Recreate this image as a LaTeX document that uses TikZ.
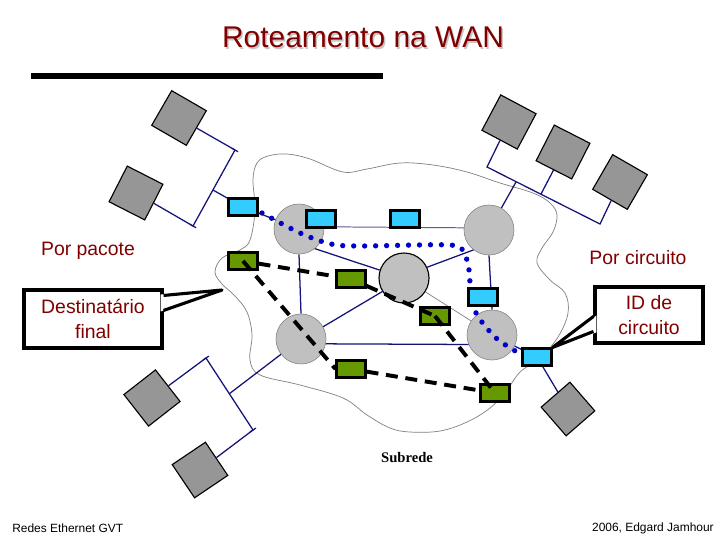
\documentclass[tikz,border=0pt]{standalone}
\usepackage{fontspec}
\setmainfont{Liberation Sans}
\newfontfamily\serifa{Liberation Serif}
\usepackage{tikz}
\usetikzlibrary{calc}

\definecolor{titulo}{RGB}{128,0,0}
\definecolor{roteador}{RGB}{192,192,192}
\definecolor{hostcinza}{RGB}{150,150,150}
\definecolor{ciano}{RGB}{51,204,255}
\definecolor{verde}{RGB}{102,153,0}
\definecolor{marinho}{RGB}{20,20,120}
\definecolor{pontos}{RGB}{0,0,204}

\begin{document}
\begin{tikzpicture}[x=0.025cm, y=-0.025cm,
    router/.style={circle, draw=gray, fill=roteador, minimum size=1.25cm, inner sep=0pt},
    host/.style={rectangle, draw=black, thick, fill=hostcinza, minimum size=1cm, inner sep=0pt},
    pacote/.style={rectangle, draw=black, line width=1.6pt, fill=ciano, minimum width=0.72cm, minimum height=0.42cm, inner sep=0pt},
    circuito/.style={pacote, fill=verde},
    enlace/.style={draw=marinho, line width=0.9pt},
    rota/.style={black, line width=2.8pt, dash pattern=on 8.5pt off 5.5pt},
    datagrama/.style={pontos, line width=3.8pt, line cap=round, dash pattern=on 0pt off 7.8pt},
    rotulo/.style={text=titulo, font=\fontsize{13.8}{17.8}\selectfont},
    balao/.style={rotulo, draw=black, line width=2.2pt, fill=white, align=center, inner sep=0pt}
  ]
    \useasboundingbox (0,0) rectangle (720,540);

    % titulo
    \node[text=gray!45, font=\fontsize{21.3}{24}\selectfont] (sombra) at (364.5,39) {Roteamento na WAN};
    \node[text=titulo, font=\fontsize{21.3}{24}\selectfont] (titulo) at (363,37.5) {Roteamento na WAN};
    \fill (31,73) rectangle (383,79);

    % subrede
    \draw[gray, line width=0.5pt] plot[smooth cycle, tension=0.6] coordinates {
      (257,163) (268,156) (287,154) (310,159) (343,172) (367,169) (400,163) (433,165)
      (467,172) (500,183) (533,193) (550,203) (557,215) (553,232) (542,248) (537,263)
      (550,280) (565,293) (568,313) (558,337) (540,358) (520,372) (507,390) (490,408)
      (467,422) (440,431) (410,432) (390,428) (367,415) (343,398) (300,385) (260,375)
      (250,360) (252,335) (247,312) (235,296) (222,284) (215,272) (222,258) (240,250)
      (250,240) (255,210) (253,180)};
    \node[font=\serifa\bfseries\fontsize{10.4}{12}\selectfont] (subrede) at (407,458) {Subrede};

    % estacoes
    \node[host, rotate=-30] (hA) at (179,118) {};
    \node[host, rotate=-27] (hB) at (136,193) {};
    \node[host, rotate=-28] (hC) at (509,122) {};
    \node[host, rotate=-27] (hD) at (563,152) {};
    \node[host, rotate=-30] (hE) at (620,182) {};
    \node[host, rotate=38] (hF) at (152,398) {};
    \node[host, rotate=34] (hG) at (200,470) {};
    \node[host, rotate=41, minimum size=0.95cm] (hH) at (568,409) {};

    % roteadores
    \node[router] (R1) at (299,229) {};
    \node[router] (R2) at (489,230) {};
    \node[router, draw=black, thick] (R3) at (404,278) {};
    \node[router] (R4) at (301,339) {};
    \node[router] (R5) at (492,335) {};

    % redes locais
    \coordinate (tlA) at (235,150);
    \coordinate (tlB) at (193,226);
    \coordinate (tlM) at (213,190);
    \draw[enlace] (tlA) -- (tlB);
    \draw[enlace] ($(tlA)!2.5pt!90:(tlB)$) -- ($(tlA)!2.5pt!-90:(tlB)$);
    \draw[enlace] ($(tlB)!2.5pt!90:(tlA)$) -- ($(tlB)!2.5pt!-90:(tlA)$);
    \draw[enlace] (hA) -- (tlA);
    \draw[enlace] (hB) -- (tlB);

    \coordinate (trA) at (487,167);
    \coordinate (trB) at (600,224);
    \coordinate (trD) at (541,194);
    \coordinate (trR) at (516,182);
    \draw[enlace] (hC) -- (trA) -- (trB) -- (hE);
    \draw[enlace] (hD) -- (trD);
    \draw[enlace] (trR) -- (R2);

    \coordinate (blA) at (206,358);
    \coordinate (blB) at (253,430);
    \coordinate (blM) at (229,394);
    \draw[enlace] (blA) -- (blB);
    \draw[enlace] ($(blA)!2.5pt!90:(blB)$) -- ($(blA)!2.5pt!-90:(blB)$);
    \draw[enlace] ($(blB)!2.5pt!90:(blA)$) -- ($(blB)!2.5pt!-90:(blA)$);
    \draw[enlace] (hF) -- (blA);
    \draw[enlace] (hG) -- (blB);
    \draw[enlace] (blM) -- (R4);

    % enlaces da subrede
    \draw[draw=marinho!70, line width=0.7pt] (R1.5) -- (R2.175);
    \draw[enlace] (R1.-51) -- (R3.162);
    \draw[enlace] (R2.-128) -- (R3.25);
    \draw[enlace] (R4.29) -- (R3.212);
    \draw[gray, line width=0.5pt] (R3.-33) -- (R5.146);
    \draw[enlace] (R4.-11) -- (R5.-158);
    \draw[enlace] (R1.-90) -- (R4.90);
    \draw[enlace] (R2.-90) -- (R5.90);

    % datagrama
    \coordinate (ini) at (262,213);
    \coordinate (fim) at (517,352);
    \draw[datagrama] plot[smooth, tension=0.5] coordinates {(ini) (300,233) (331,244)
      (360,246) (450,245) (464,253) (469,270) (471,295) (477,315) (496,338) (fim)};

    % pacotes
    \node[pacote] (p0) at (243,207) {};
    \node[pacote] (p1) at (321,219) {};
    \node[pacote] (p2) at (405,219) {};
    \node[pacote] (p3) at (483,297) {};
    \node[pacote] (p4) at (537,357) {};
    \draw[enlace] (tlM) -- (p0);
    \draw[enlace] (p0) -- (R1);
    \draw[enlace] (R5) -- (p4);
    \draw[enlace] (p4) -- (hH);

    % circuito virtual
    \node[circuito] (c1) at (243,261) {};
    \node[circuito] (c2) at (351,279) {};
    \node[circuito] (c3) at (435,316) {};
    \node[circuito] (c4) at (351,369) {};
    \node[circuito] (c5) at (495,393) {};
    \draw[rota] (c1) -- (c2);
    \draw[rota] (c1.center) -- (c4.west);
    \draw[rota] (c2) -- (c3.center);
    \draw[rota] (c3.center) -- (c5.center);
    \draw[rota] (c4) -- (c5);

    % legendas
    \node[rotulo] (pacote) at (88,251) {Por pacote};
    \node[rotulo] (porcircuito) at (638,258) {Por circuito};

    \node[balao, minimum width=3.45cm, minimum height=1.45cm] (destino) at (93,319) {Destinatário\\final};
    \coordinate (dponta) at (222,290);
    \fill[white] ($(destino.north east)+(-3,6)$) -- (dponta) -- ($(destino.north east)+(-3,23)$) -- cycle;
    \draw[line width=2.2pt, line join=round] ($(destino.north east)+(0,7)$) -- (dponta) -- ($(destino.north east)+(0,22)$);

    \node[balao, minimum width=2.7cm, minimum height=1.4cm] (idcirc) at (649,315) {ID de\\circuito};
    \fill[white] ($(idcirc.north west)+(3,30)$) -- (p4.north east) -- ($(idcirc.north west)+(3,47)$) -- cycle;
    \draw[line width=2.2pt, line join=round] ($(idcirc.north west)+(0,31)$) -- (p4.north east) -- ($(idcirc.north west)+(0,46)$);

    % rodape
    \node[anchor=west, inner sep=0pt, font=\fontsize{8.5}{10}\selectfont] (rodape) at (12,528) {Redes Ethernet GVT};
    \node[anchor=east, inner sep=0pt, font=\fontsize{8.5}{10}\selectfont] (autor) at (714,528) {2006, Edgard Jamhour};
\end{tikzpicture}
\end{document}
